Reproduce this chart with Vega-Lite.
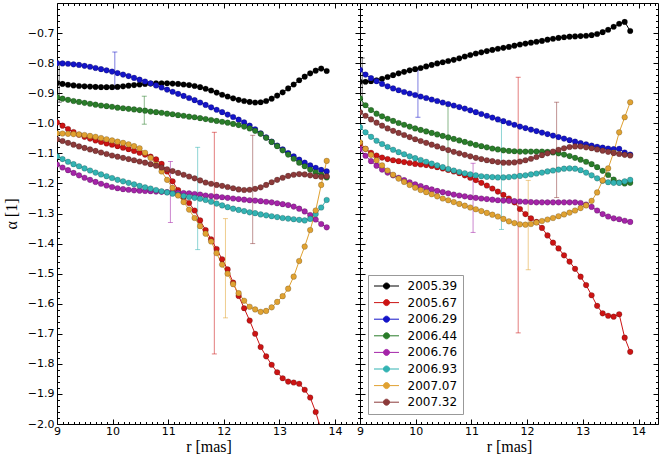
{
"$schema":"https://vega.github.io/schema/vega-lite/v6.json",
"background":"white",
"padding":{"left":2,"top":2,"right":2,"bottom":0},
"config":{"view":{"stroke":"black","strokeWidth":1},
"axis":{"grid":false,"domain":false,"labelFont":"DejaVu Sans","labelFontSize":11,"labelColor":"black","tickColor":"black","tickWidth":1,"titleFont":"Liberation Serif","titleFontSize":16,"titleFontWeight":"normal","titleColor":"black","labelOverlap":false,"labelBound":false,"labelFlush":false}},
"datasets":{
"errs":[
{"p":"L","s":"2005.39","r":9.04,"lo":-0.93,"hi":-0.797},
{"p":"L","s":"2006.29","r":10.04,"lo":-0.885,"hi":-0.763},
{"p":"L","s":"2006.44","r":10.57,"lo":-1.003,"hi":-0.91},
{"p":"L","s":"2006.76","r":11.04,"lo":-1.33,"hi":-1.127},
{"p":"L","s":"2006.93","r":11.53,"lo":-1.42,"hi":-1.08},
{"p":"L","s":"2005.67","r":11.83,"lo":-1.767,"hi":-1.03},
{"p":"L","s":"2007.07","r":12.03,"lo":-1.647,"hi":-1.317},
{"p":"L","s":"2007.32","r":12.52,"lo":-1.4,"hi":-1.04},
{"p":"R","s":"2005.39","r":9.04,"lo":-0.94,"hi":-0.783},
{"p":"R","s":"2006.29","r":10.04,"lo":-0.98,"hi":-0.823},
{"p":"R","s":"2006.44","r":10.58,"lo":-1.16,"hi":-0.943},
{"p":"R","s":"2006.76","r":11.03,"lo":-1.363,"hi":-1.133},
{"p":"R","s":"2006.93","r":11.54,"lo":-1.353,"hi":-0.997},
{"p":"R","s":"2005.67","r":11.84,"lo":-1.697,"hi":-0.847},
{"p":"R","s":"2007.07","r":12.02,"lo":-1.487,"hi":-1.19},
{"p":"R","s":"2007.32","r":12.53,"lo":-1.247,"hi":-0.93}
],
"main":[
{"p":"L","s":"2005.39","r":9,"a":-0.866},{"p":"L","s":"2005.39","r":9.099,"a":-0.869},{"p":"L","s":"2005.39","r":9.198,"a":-0.872},{"p":"L","s":"2005.39","r":9.297,"a":-0.874},{"p":"L","s":"2005.39","r":9.396,"a":-0.876},{"p":"L","s":"2005.39","r":9.495,"a":-0.877},{"p":"L","s":"2005.39","r":9.594,"a":-0.878},{"p":"L","s":"2005.39","r":9.693,"a":-0.879},{"p":"L","s":"2005.39","r":9.792,"a":-0.88},{"p":"L","s":"2005.39","r":9.891,"a":-0.88},
{"p":"L","s":"2005.39","r":9.99,"a":-0.88},{"p":"L","s":"2005.39","r":10.089,"a":-0.879},{"p":"L","s":"2005.39","r":10.188,"a":-0.877},{"p":"L","s":"2005.39","r":10.287,"a":-0.875},{"p":"L","s":"2005.39","r":10.386,"a":-0.873},{"p":"L","s":"2005.39","r":10.485,"a":-0.871},{"p":"L","s":"2005.39","r":10.584,"a":-0.869},{"p":"L","s":"2005.39","r":10.683,"a":-0.868},{"p":"L","s":"2005.39","r":10.782,"a":-0.867},{"p":"L","s":"2005.39","r":10.881,"a":-0.867},
{"p":"L","s":"2005.39","r":10.98,"a":-0.867},{"p":"L","s":"2005.39","r":11.079,"a":-0.868},{"p":"L","s":"2005.39","r":11.178,"a":-0.869},{"p":"L","s":"2005.39","r":11.277,"a":-0.871},{"p":"L","s":"2005.39","r":11.376,"a":-0.873},{"p":"L","s":"2005.39","r":11.475,"a":-0.876},{"p":"L","s":"2005.39","r":11.574,"a":-0.88},{"p":"L","s":"2005.39","r":11.673,"a":-0.885},{"p":"L","s":"2005.39","r":11.772,"a":-0.891},{"p":"L","s":"2005.39","r":11.871,"a":-0.898},
{"p":"L","s":"2005.39","r":11.97,"a":-0.905},{"p":"L","s":"2005.39","r":12.069,"a":-0.911},{"p":"L","s":"2005.39","r":12.168,"a":-0.917},{"p":"L","s":"2005.39","r":12.267,"a":-0.922},{"p":"L","s":"2005.39","r":12.366,"a":-0.926},{"p":"L","s":"2005.39","r":12.465,"a":-0.929},{"p":"L","s":"2005.39","r":12.564,"a":-0.931},{"p":"L","s":"2005.39","r":12.663,"a":-0.93},{"p":"L","s":"2005.39","r":12.762,"a":-0.926},{"p":"L","s":"2005.39","r":12.861,"a":-0.918},
{"p":"L","s":"2005.39","r":12.96,"a":-0.908},{"p":"L","s":"2005.39","r":13.059,"a":-0.897},{"p":"L","s":"2005.39","r":13.158,"a":-0.884},{"p":"L","s":"2005.39","r":13.257,"a":-0.871},{"p":"L","s":"2005.39","r":13.356,"a":-0.857},{"p":"L","s":"2005.39","r":13.455,"a":-0.845},{"p":"L","s":"2005.39","r":13.554,"a":-0.834},{"p":"L","s":"2005.39","r":13.653,"a":-0.825},{"p":"L","s":"2005.39","r":13.752,"a":-0.818},{"p":"L","s":"2005.39","r":13.851,"a":-0.826},

{"p":"L","s":"2005.67","r":9,"a":-0.997},{"p":"L","s":"2005.67","r":9.099,"a":-1.008},{"p":"L","s":"2005.67","r":9.198,"a":-1.019},{"p":"L","s":"2005.67","r":9.297,"a":-1.029},{"p":"L","s":"2005.67","r":9.396,"a":-1.038},{"p":"L","s":"2005.67","r":9.495,"a":-1.045},{"p":"L","s":"2005.67","r":9.594,"a":-1.051},{"p":"L","s":"2005.67","r":9.693,"a":-1.057},{"p":"L","s":"2005.67","r":9.792,"a":-1.062},{"p":"L","s":"2005.67","r":9.891,"a":-1.067},
{"p":"L","s":"2005.67","r":9.99,"a":-1.071},{"p":"L","s":"2005.67","r":10.089,"a":-1.076},{"p":"L","s":"2005.67","r":10.188,"a":-1.081},{"p":"L","s":"2005.67","r":10.287,"a":-1.086},{"p":"L","s":"2005.67","r":10.386,"a":-1.092},{"p":"L","s":"2005.67","r":10.485,"a":-1.098},{"p":"L","s":"2005.67","r":10.584,"a":-1.104},{"p":"L","s":"2005.67","r":10.683,"a":-1.111},{"p":"L","s":"2005.67","r":10.782,"a":-1.12},{"p":"L","s":"2005.67","r":10.881,"a":-1.135},
{"p":"L","s":"2005.67","r":10.98,"a":-1.16},{"p":"L","s":"2005.67","r":11.079,"a":-1.193},{"p":"L","s":"2005.67","r":11.178,"a":-1.222},{"p":"L","s":"2005.67","r":11.277,"a":-1.245},{"p":"L","s":"2005.67","r":11.376,"a":-1.265},{"p":"L","s":"2005.67","r":11.475,"a":-1.29},{"p":"L","s":"2005.67","r":11.574,"a":-1.323},{"p":"L","s":"2005.67","r":11.673,"a":-1.355},{"p":"L","s":"2005.67","r":11.772,"a":-1.386},{"p":"L","s":"2005.67","r":11.871,"a":-1.418},
{"p":"L","s":"2005.67","r":11.97,"a":-1.452},{"p":"L","s":"2005.67","r":12.069,"a":-1.486},{"p":"L","s":"2005.67","r":12.168,"a":-1.53},{"p":"L","s":"2005.67","r":12.267,"a":-1.574},{"p":"L","s":"2005.67","r":12.366,"a":-1.615},{"p":"L","s":"2005.67","r":12.465,"a":-1.656},{"p":"L","s":"2005.67","r":12.564,"a":-1.7},{"p":"L","s":"2005.67","r":12.663,"a":-1.744},{"p":"L","s":"2005.67","r":12.762,"a":-1.775},{"p":"L","s":"2005.67","r":12.861,"a":-1.803},
{"p":"L","s":"2005.67","r":12.96,"a":-1.828},{"p":"L","s":"2005.67","r":13.059,"a":-1.848},{"p":"L","s":"2005.67","r":13.158,"a":-1.859},{"p":"L","s":"2005.67","r":13.257,"a":-1.862},{"p":"L","s":"2005.67","r":13.356,"a":-1.866},{"p":"L","s":"2005.67","r":13.455,"a":-1.886},{"p":"L","s":"2005.67","r":13.554,"a":-1.912},{"p":"L","s":"2005.67","r":13.653,"a":-1.96},{"p":"L","s":"2005.67","r":13.752,"a":-2.02},{"p":"L","s":"2005.67","r":13.851,"a":-2.08},

{"p":"L","s":"2006.29","r":9,"a":-0.8},{"p":"L","s":"2006.29","r":9.099,"a":-0.801},{"p":"L","s":"2006.29","r":9.198,"a":-0.802},{"p":"L","s":"2006.29","r":9.297,"a":-0.804},{"p":"L","s":"2006.29","r":9.396,"a":-0.806},{"p":"L","s":"2006.29","r":9.495,"a":-0.809},{"p":"L","s":"2006.29","r":9.594,"a":-0.812},{"p":"L","s":"2006.29","r":9.693,"a":-0.816},{"p":"L","s":"2006.29","r":9.792,"a":-0.82},{"p":"L","s":"2006.29","r":9.891,"a":-0.824},
{"p":"L","s":"2006.29","r":9.99,"a":-0.828},{"p":"L","s":"2006.29","r":10.089,"a":-0.833},{"p":"L","s":"2006.29","r":10.188,"a":-0.838},{"p":"L","s":"2006.29","r":10.287,"a":-0.843},{"p":"L","s":"2006.29","r":10.386,"a":-0.849},{"p":"L","s":"2006.29","r":10.485,"a":-0.855},{"p":"L","s":"2006.29","r":10.584,"a":-0.861},{"p":"L","s":"2006.29","r":10.683,"a":-0.867},{"p":"L","s":"2006.29","r":10.782,"a":-0.874},{"p":"L","s":"2006.29","r":10.881,"a":-0.881},
{"p":"L","s":"2006.29","r":10.98,"a":-0.888},{"p":"L","s":"2006.29","r":11.079,"a":-0.895},{"p":"L","s":"2006.29","r":11.178,"a":-0.902},{"p":"L","s":"2006.29","r":11.277,"a":-0.909},{"p":"L","s":"2006.29","r":11.376,"a":-0.916},{"p":"L","s":"2006.29","r":11.475,"a":-0.923},{"p":"L","s":"2006.29","r":11.574,"a":-0.931},{"p":"L","s":"2006.29","r":11.673,"a":-0.939},{"p":"L","s":"2006.29","r":11.772,"a":-0.947},{"p":"L","s":"2006.29","r":11.871,"a":-0.955},
{"p":"L","s":"2006.29","r":11.97,"a":-0.963},{"p":"L","s":"2006.29","r":12.069,"a":-0.971},{"p":"L","s":"2006.29","r":12.168,"a":-0.979},{"p":"L","s":"2006.29","r":12.267,"a":-0.988},{"p":"L","s":"2006.29","r":12.366,"a":-0.997},{"p":"L","s":"2006.29","r":12.465,"a":-1.008},{"p":"L","s":"2006.29","r":12.564,"a":-1.02},{"p":"L","s":"2006.29","r":12.663,"a":-1.033},{"p":"L","s":"2006.29","r":12.762,"a":-1.047},{"p":"L","s":"2006.29","r":12.861,"a":-1.061},
{"p":"L","s":"2006.29","r":12.96,"a":-1.074},{"p":"L","s":"2006.29","r":13.059,"a":-1.087},{"p":"L","s":"2006.29","r":13.158,"a":-1.099},{"p":"L","s":"2006.29","r":13.257,"a":-1.11},{"p":"L","s":"2006.29","r":13.356,"a":-1.121},{"p":"L","s":"2006.29","r":13.455,"a":-1.131},{"p":"L","s":"2006.29","r":13.554,"a":-1.14},{"p":"L","s":"2006.29","r":13.653,"a":-1.148},{"p":"L","s":"2006.29","r":13.752,"a":-1.155},{"p":"L","s":"2006.29","r":13.851,"a":-1.16},

{"p":"L","s":"2006.44","r":9,"a":-0.913},{"p":"L","s":"2006.44","r":9.099,"a":-0.918},{"p":"L","s":"2006.44","r":9.198,"a":-0.922},{"p":"L","s":"2006.44","r":9.297,"a":-0.926},{"p":"L","s":"2006.44","r":9.396,"a":-0.929},{"p":"L","s":"2006.44","r":9.495,"a":-0.932},{"p":"L","s":"2006.44","r":9.594,"a":-0.935},{"p":"L","s":"2006.44","r":9.693,"a":-0.938},{"p":"L","s":"2006.44","r":9.792,"a":-0.941},{"p":"L","s":"2006.44","r":9.891,"a":-0.943},
{"p":"L","s":"2006.44","r":9.99,"a":-0.945},{"p":"L","s":"2006.44","r":10.089,"a":-0.948},{"p":"L","s":"2006.44","r":10.188,"a":-0.95},{"p":"L","s":"2006.44","r":10.287,"a":-0.952},{"p":"L","s":"2006.44","r":10.386,"a":-0.954},{"p":"L","s":"2006.44","r":10.485,"a":-0.956},{"p":"L","s":"2006.44","r":10.584,"a":-0.958},{"p":"L","s":"2006.44","r":10.683,"a":-0.961},{"p":"L","s":"2006.44","r":10.782,"a":-0.963},{"p":"L","s":"2006.44","r":10.881,"a":-0.965},
{"p":"L","s":"2006.44","r":10.98,"a":-0.968},{"p":"L","s":"2006.44","r":11.079,"a":-0.97},{"p":"L","s":"2006.44","r":11.178,"a":-0.973},{"p":"L","s":"2006.44","r":11.277,"a":-0.975},{"p":"L","s":"2006.44","r":11.376,"a":-0.978},{"p":"L","s":"2006.44","r":11.475,"a":-0.98},{"p":"L","s":"2006.44","r":11.574,"a":-0.983},{"p":"L","s":"2006.44","r":11.673,"a":-0.986},{"p":"L","s":"2006.44","r":11.772,"a":-0.989},{"p":"L","s":"2006.44","r":11.871,"a":-0.992},
{"p":"L","s":"2006.44","r":11.97,"a":-0.995},{"p":"L","s":"2006.44","r":12.069,"a":-0.998},{"p":"L","s":"2006.44","r":12.168,"a":-1.002},{"p":"L","s":"2006.44","r":12.267,"a":-1.006},{"p":"L","s":"2006.44","r":12.366,"a":-1.011},{"p":"L","s":"2006.44","r":12.465,"a":-1.017},{"p":"L","s":"2006.44","r":12.564,"a":-1.025},{"p":"L","s":"2006.44","r":12.663,"a":-1.035},{"p":"L","s":"2006.44","r":12.762,"a":-1.048},{"p":"L","s":"2006.44","r":12.861,"a":-1.062},
{"p":"L","s":"2006.44","r":12.96,"a":-1.076},{"p":"L","s":"2006.44","r":13.059,"a":-1.09},{"p":"L","s":"2006.44","r":13.158,"a":-1.104},{"p":"L","s":"2006.44","r":13.257,"a":-1.118},{"p":"L","s":"2006.44","r":13.356,"a":-1.131},{"p":"L","s":"2006.44","r":13.455,"a":-1.143},{"p":"L","s":"2006.44","r":13.554,"a":-1.154},{"p":"L","s":"2006.44","r":13.653,"a":-1.163},{"p":"L","s":"2006.44","r":13.752,"a":-1.171},{"p":"L","s":"2006.44","r":13.851,"a":-1.18},

{"p":"L","s":"2006.76","r":9,"a":-1.137},{"p":"L","s":"2006.76","r":9.099,"a":-1.147},{"p":"L","s":"2006.76","r":9.198,"a":-1.156},{"p":"L","s":"2006.76","r":9.297,"a":-1.165},{"p":"L","s":"2006.76","r":9.396,"a":-1.173},{"p":"L","s":"2006.76","r":9.495,"a":-1.181},{"p":"L","s":"2006.76","r":9.594,"a":-1.188},{"p":"L","s":"2006.76","r":9.693,"a":-1.195},{"p":"L","s":"2006.76","r":9.792,"a":-1.201},{"p":"L","s":"2006.76","r":9.891,"a":-1.207},
{"p":"L","s":"2006.76","r":9.99,"a":-1.212},{"p":"L","s":"2006.76","r":10.089,"a":-1.216},{"p":"L","s":"2006.76","r":10.188,"a":-1.219},{"p":"L","s":"2006.76","r":10.287,"a":-1.221},{"p":"L","s":"2006.76","r":10.386,"a":-1.223},{"p":"L","s":"2006.76","r":10.485,"a":-1.224},{"p":"L","s":"2006.76","r":10.584,"a":-1.225},{"p":"L","s":"2006.76","r":10.683,"a":-1.226},{"p":"L","s":"2006.76","r":10.782,"a":-1.227},{"p":"L","s":"2006.76","r":10.881,"a":-1.228},
{"p":"L","s":"2006.76","r":10.98,"a":-1.229},{"p":"L","s":"2006.76","r":11.079,"a":-1.23},{"p":"L","s":"2006.76","r":11.178,"a":-1.231},{"p":"L","s":"2006.76","r":11.277,"a":-1.232},{"p":"L","s":"2006.76","r":11.376,"a":-1.233},{"p":"L","s":"2006.76","r":11.475,"a":-1.235},{"p":"L","s":"2006.76","r":11.574,"a":-1.237},{"p":"L","s":"2006.76","r":11.673,"a":-1.24},{"p":"L","s":"2006.76","r":11.772,"a":-1.242},{"p":"L","s":"2006.76","r":11.871,"a":-1.244},
{"p":"L","s":"2006.76","r":11.97,"a":-1.246},{"p":"L","s":"2006.76","r":12.069,"a":-1.248},{"p":"L","s":"2006.76","r":12.168,"a":-1.25},{"p":"L","s":"2006.76","r":12.267,"a":-1.252},{"p":"L","s":"2006.76","r":12.366,"a":-1.254},{"p":"L","s":"2006.76","r":12.465,"a":-1.256},{"p":"L","s":"2006.76","r":12.564,"a":-1.257},{"p":"L","s":"2006.76","r":12.663,"a":-1.259},{"p":"L","s":"2006.76","r":12.762,"a":-1.261},{"p":"L","s":"2006.76","r":12.861,"a":-1.263},
{"p":"L","s":"2006.76","r":12.96,"a":-1.266},{"p":"L","s":"2006.76","r":13.059,"a":-1.269},{"p":"L","s":"2006.76","r":13.158,"a":-1.272},{"p":"L","s":"2006.76","r":13.257,"a":-1.277},{"p":"L","s":"2006.76","r":13.356,"a":-1.284},{"p":"L","s":"2006.76","r":13.455,"a":-1.293},{"p":"L","s":"2006.76","r":13.554,"a":-1.305},{"p":"L","s":"2006.76","r":13.653,"a":-1.32},{"p":"L","s":"2006.76","r":13.752,"a":-1.335},{"p":"L","s":"2006.76","r":13.851,"a":-1.346},

{"p":"L","s":"2006.93","r":9,"a":-1.11},{"p":"L","s":"2006.93","r":9.099,"a":-1.119},{"p":"L","s":"2006.93","r":9.198,"a":-1.128},{"p":"L","s":"2006.93","r":9.297,"a":-1.136},{"p":"L","s":"2006.93","r":9.396,"a":-1.143},{"p":"L","s":"2006.93","r":9.495,"a":-1.15},{"p":"L","s":"2006.93","r":9.594,"a":-1.157},{"p":"L","s":"2006.93","r":9.693,"a":-1.164},{"p":"L","s":"2006.93","r":9.792,"a":-1.17},{"p":"L","s":"2006.93","r":9.891,"a":-1.176},
{"p":"L","s":"2006.93","r":9.99,"a":-1.182},{"p":"L","s":"2006.93","r":10.089,"a":-1.188},{"p":"L","s":"2006.93","r":10.188,"a":-1.193},{"p":"L","s":"2006.93","r":10.287,"a":-1.198},{"p":"L","s":"2006.93","r":10.386,"a":-1.203},{"p":"L","s":"2006.93","r":10.485,"a":-1.208},{"p":"L","s":"2006.93","r":10.584,"a":-1.213},{"p":"L","s":"2006.93","r":10.683,"a":-1.217},{"p":"L","s":"2006.93","r":10.782,"a":-1.222},{"p":"L","s":"2006.93","r":10.881,"a":-1.226},
{"p":"L","s":"2006.93","r":10.98,"a":-1.23},{"p":"L","s":"2006.93","r":11.079,"a":-1.234},{"p":"L","s":"2006.93","r":11.178,"a":-1.238},{"p":"L","s":"2006.93","r":11.277,"a":-1.242},{"p":"L","s":"2006.93","r":11.376,"a":-1.245},{"p":"L","s":"2006.93","r":11.475,"a":-1.248},{"p":"L","s":"2006.93","r":11.574,"a":-1.251},{"p":"L","s":"2006.93","r":11.673,"a":-1.255},{"p":"L","s":"2006.93","r":11.772,"a":-1.261},{"p":"L","s":"2006.93","r":11.871,"a":-1.267},
{"p":"L","s":"2006.93","r":11.97,"a":-1.273},{"p":"L","s":"2006.93","r":12.069,"a":-1.279},{"p":"L","s":"2006.93","r":12.168,"a":-1.284},{"p":"L","s":"2006.93","r":12.267,"a":-1.288},{"p":"L","s":"2006.93","r":12.366,"a":-1.292},{"p":"L","s":"2006.93","r":12.465,"a":-1.296},{"p":"L","s":"2006.93","r":12.564,"a":-1.299},{"p":"L","s":"2006.93","r":12.663,"a":-1.303},{"p":"L","s":"2006.93","r":12.762,"a":-1.306},{"p":"L","s":"2006.93","r":12.861,"a":-1.309},
{"p":"L","s":"2006.93","r":12.96,"a":-1.312},{"p":"L","s":"2006.93","r":13.059,"a":-1.315},{"p":"L","s":"2006.93","r":13.158,"a":-1.317},{"p":"L","s":"2006.93","r":13.257,"a":-1.319},{"p":"L","s":"2006.93","r":13.356,"a":-1.321},{"p":"L","s":"2006.93","r":13.455,"a":-1.323},{"p":"L","s":"2006.93","r":13.554,"a":-1.318},{"p":"L","s":"2006.93","r":13.653,"a":-1.302},{"p":"L","s":"2006.93","r":13.752,"a":-1.28},{"p":"L","s":"2006.93","r":13.851,"a":-1.255},

{"p":"L","s":"2007.07","r":9,"a":-1.033},{"p":"L","s":"2007.07","r":9.099,"a":-1.034},{"p":"L","s":"2007.07","r":9.198,"a":-1.035},{"p":"L","s":"2007.07","r":9.297,"a":-1.036},{"p":"L","s":"2007.07","r":9.396,"a":-1.037},{"p":"L","s":"2007.07","r":9.495,"a":-1.039},{"p":"L","s":"2007.07","r":9.594,"a":-1.042},{"p":"L","s":"2007.07","r":9.693,"a":-1.045},{"p":"L","s":"2007.07","r":9.792,"a":-1.049},{"p":"L","s":"2007.07","r":9.891,"a":-1.053},
{"p":"L","s":"2007.07","r":9.99,"a":-1.057},{"p":"L","s":"2007.07","r":10.089,"a":-1.061},{"p":"L","s":"2007.07","r":10.188,"a":-1.065},{"p":"L","s":"2007.07","r":10.287,"a":-1.07},{"p":"L","s":"2007.07","r":10.386,"a":-1.076},{"p":"L","s":"2007.07","r":10.485,"a":-1.083},{"p":"L","s":"2007.07","r":10.584,"a":-1.098},{"p":"L","s":"2007.07","r":10.683,"a":-1.115},{"p":"L","s":"2007.07","r":10.782,"a":-1.137},{"p":"L","s":"2007.07","r":10.881,"a":-1.16},
{"p":"L","s":"2007.07","r":10.98,"a":-1.188},{"p":"L","s":"2007.07","r":11.079,"a":-1.215},{"p":"L","s":"2007.07","r":11.178,"a":-1.24},{"p":"L","s":"2007.07","r":11.277,"a":-1.262},{"p":"L","s":"2007.07","r":11.376,"a":-1.287},{"p":"L","s":"2007.07","r":11.475,"a":-1.315},{"p":"L","s":"2007.07","r":11.574,"a":-1.342},{"p":"L","s":"2007.07","r":11.673,"a":-1.367},{"p":"L","s":"2007.07","r":11.772,"a":-1.393},{"p":"L","s":"2007.07","r":11.871,"a":-1.432},
{"p":"L","s":"2007.07","r":11.97,"a":-1.47},{"p":"L","s":"2007.07","r":12.069,"a":-1.5},{"p":"L","s":"2007.07","r":12.168,"a":-1.535},{"p":"L","s":"2007.07","r":12.267,"a":-1.565},{"p":"L","s":"2007.07","r":12.366,"a":-1.59},{"p":"L","s":"2007.07","r":12.465,"a":-1.61},{"p":"L","s":"2007.07","r":12.564,"a":-1.619},{"p":"L","s":"2007.07","r":12.663,"a":-1.627},{"p":"L","s":"2007.07","r":12.762,"a":-1.624},{"p":"L","s":"2007.07","r":12.861,"a":-1.612},
{"p":"L","s":"2007.07","r":12.96,"a":-1.594},{"p":"L","s":"2007.07","r":13.059,"a":-1.575},{"p":"L","s":"2007.07","r":13.158,"a":-1.55},{"p":"L","s":"2007.07","r":13.257,"a":-1.51},{"p":"L","s":"2007.07","r":13.356,"a":-1.458},{"p":"L","s":"2007.07","r":13.455,"a":-1.41},{"p":"L","s":"2007.07","r":13.554,"a":-1.355},{"p":"L","s":"2007.07","r":13.653,"a":-1.29},{"p":"L","s":"2007.07","r":13.752,"a":-1.205},{"p":"L","s":"2007.07","r":13.851,"a":-1.125},

{"p":"L","s":"2007.32","r":9,"a":-1.053},{"p":"L","s":"2007.32","r":9.099,"a":-1.059},{"p":"L","s":"2007.32","r":9.198,"a":-1.065},{"p":"L","s":"2007.32","r":9.297,"a":-1.071},{"p":"L","s":"2007.32","r":9.396,"a":-1.077},{"p":"L","s":"2007.32","r":9.495,"a":-1.082},{"p":"L","s":"2007.32","r":9.594,"a":-1.087},{"p":"L","s":"2007.32","r":9.693,"a":-1.092},{"p":"L","s":"2007.32","r":9.792,"a":-1.097},{"p":"L","s":"2007.32","r":9.891,"a":-1.102},
{"p":"L","s":"2007.32","r":9.99,"a":-1.107},{"p":"L","s":"2007.32","r":10.089,"a":-1.111},{"p":"L","s":"2007.32","r":10.188,"a":-1.115},{"p":"L","s":"2007.32","r":10.287,"a":-1.119},{"p":"L","s":"2007.32","r":10.386,"a":-1.123},{"p":"L","s":"2007.32","r":10.485,"a":-1.127},{"p":"L","s":"2007.32","r":10.584,"a":-1.131},{"p":"L","s":"2007.32","r":10.683,"a":-1.136},{"p":"L","s":"2007.32","r":10.782,"a":-1.141},{"p":"L","s":"2007.32","r":10.881,"a":-1.147},
{"p":"L","s":"2007.32","r":10.98,"a":-1.153},{"p":"L","s":"2007.32","r":11.079,"a":-1.159},{"p":"L","s":"2007.32","r":11.178,"a":-1.165},{"p":"L","s":"2007.32","r":11.277,"a":-1.171},{"p":"L","s":"2007.32","r":11.376,"a":-1.177},{"p":"L","s":"2007.32","r":11.475,"a":-1.183},{"p":"L","s":"2007.32","r":11.574,"a":-1.19},{"p":"L","s":"2007.32","r":11.673,"a":-1.197},{"p":"L","s":"2007.32","r":11.772,"a":-1.201},{"p":"L","s":"2007.32","r":11.871,"a":-1.205},
{"p":"L","s":"2007.32","r":11.97,"a":-1.208},{"p":"L","s":"2007.32","r":12.069,"a":-1.212},{"p":"L","s":"2007.32","r":12.168,"a":-1.216},{"p":"L","s":"2007.32","r":12.267,"a":-1.22},{"p":"L","s":"2007.32","r":12.366,"a":-1.222},{"p":"L","s":"2007.32","r":12.465,"a":-1.221},{"p":"L","s":"2007.32","r":12.564,"a":-1.218},{"p":"L","s":"2007.32","r":12.663,"a":-1.213},{"p":"L","s":"2007.32","r":12.762,"a":-1.205},{"p":"L","s":"2007.32","r":12.861,"a":-1.196},
{"p":"L","s":"2007.32","r":12.96,"a":-1.188},{"p":"L","s":"2007.32","r":13.059,"a":-1.181},{"p":"L","s":"2007.32","r":13.158,"a":-1.175},{"p":"L","s":"2007.32","r":13.257,"a":-1.171},{"p":"L","s":"2007.32","r":13.356,"a":-1.169},{"p":"L","s":"2007.32","r":13.455,"a":-1.17},{"p":"L","s":"2007.32","r":13.554,"a":-1.173},{"p":"L","s":"2007.32","r":13.653,"a":-1.176},{"p":"L","s":"2007.32","r":13.752,"a":-1.178},{"p":"L","s":"2007.32","r":13.851,"a":-1.176},

{"p":"R","s":"2005.39","r":9,"a":-0.862},{"p":"R","s":"2005.39","r":9.099,"a":-0.862},{"p":"R","s":"2005.39","r":9.198,"a":-0.86},{"p":"R","s":"2005.39","r":9.297,"a":-0.857},{"p":"R","s":"2005.39","r":9.396,"a":-0.852},{"p":"R","s":"2005.39","r":9.495,"a":-0.846},{"p":"R","s":"2005.39","r":9.594,"a":-0.84},{"p":"R","s":"2005.39","r":9.693,"a":-0.834},{"p":"R","s":"2005.39","r":9.792,"a":-0.829},{"p":"R","s":"2005.39","r":9.891,"a":-0.824},
{"p":"R","s":"2005.39","r":9.99,"a":-0.82},{"p":"R","s":"2005.39","r":10.089,"a":-0.816},{"p":"R","s":"2005.39","r":10.188,"a":-0.811},{"p":"R","s":"2005.39","r":10.287,"a":-0.806},{"p":"R","s":"2005.39","r":10.386,"a":-0.801},{"p":"R","s":"2005.39","r":10.485,"a":-0.797},{"p":"R","s":"2005.39","r":10.584,"a":-0.793},{"p":"R","s":"2005.39","r":10.683,"a":-0.789},{"p":"R","s":"2005.39","r":10.782,"a":-0.784},{"p":"R","s":"2005.39","r":10.881,"a":-0.778},
{"p":"R","s":"2005.39","r":10.98,"a":-0.773},{"p":"R","s":"2005.39","r":11.079,"a":-0.768},{"p":"R","s":"2005.39","r":11.178,"a":-0.764},{"p":"R","s":"2005.39","r":11.277,"a":-0.76},{"p":"R","s":"2005.39","r":11.376,"a":-0.756},{"p":"R","s":"2005.39","r":11.475,"a":-0.752},{"p":"R","s":"2005.39","r":11.574,"a":-0.749},{"p":"R","s":"2005.39","r":11.673,"a":-0.746},{"p":"R","s":"2005.39","r":11.772,"a":-0.742},{"p":"R","s":"2005.39","r":11.871,"a":-0.738},
{"p":"R","s":"2005.39","r":11.97,"a":-0.735},{"p":"R","s":"2005.39","r":12.069,"a":-0.732},{"p":"R","s":"2005.39","r":12.168,"a":-0.729},{"p":"R","s":"2005.39","r":12.267,"a":-0.726},{"p":"R","s":"2005.39","r":12.366,"a":-0.722},{"p":"R","s":"2005.39","r":12.465,"a":-0.719},{"p":"R","s":"2005.39","r":12.564,"a":-0.716},{"p":"R","s":"2005.39","r":12.663,"a":-0.714},{"p":"R","s":"2005.39","r":12.762,"a":-0.712},{"p":"R","s":"2005.39","r":12.861,"a":-0.711},
{"p":"R","s":"2005.39","r":12.96,"a":-0.71},{"p":"R","s":"2005.39","r":13.059,"a":-0.709},{"p":"R","s":"2005.39","r":13.158,"a":-0.707},{"p":"R","s":"2005.39","r":13.257,"a":-0.703},{"p":"R","s":"2005.39","r":13.356,"a":-0.697},{"p":"R","s":"2005.39","r":13.455,"a":-0.689},{"p":"R","s":"2005.39","r":13.554,"a":-0.679},{"p":"R","s":"2005.39","r":13.653,"a":-0.669},{"p":"R","s":"2005.39","r":13.752,"a":-0.663},{"p":"R","s":"2005.39","r":13.851,"a":-0.693},

{"p":"R","s":"2005.67","r":9,"a":-1.068},{"p":"R","s":"2005.67","r":9.099,"a":-1.085},{"p":"R","s":"2005.67","r":9.198,"a":-1.098},{"p":"R","s":"2005.67","r":9.297,"a":-1.107},{"p":"R","s":"2005.67","r":9.396,"a":-1.114},{"p":"R","s":"2005.67","r":9.495,"a":-1.119},{"p":"R","s":"2005.67","r":9.594,"a":-1.123},{"p":"R","s":"2005.67","r":9.693,"a":-1.126},{"p":"R","s":"2005.67","r":9.792,"a":-1.129},{"p":"R","s":"2005.67","r":9.891,"a":-1.132},
{"p":"R","s":"2005.67","r":9.99,"a":-1.135},{"p":"R","s":"2005.67","r":10.089,"a":-1.137},{"p":"R","s":"2005.67","r":10.188,"a":-1.139},{"p":"R","s":"2005.67","r":10.287,"a":-1.142},{"p":"R","s":"2005.67","r":10.386,"a":-1.146},{"p":"R","s":"2005.67","r":10.485,"a":-1.15},{"p":"R","s":"2005.67","r":10.584,"a":-1.155},{"p":"R","s":"2005.67","r":10.683,"a":-1.16},{"p":"R","s":"2005.67","r":10.782,"a":-1.166},{"p":"R","s":"2005.67","r":10.881,"a":-1.173},
{"p":"R","s":"2005.67","r":10.98,"a":-1.181},{"p":"R","s":"2005.67","r":11.079,"a":-1.189},{"p":"R","s":"2005.67","r":11.178,"a":-1.198},{"p":"R","s":"2005.67","r":11.277,"a":-1.207},{"p":"R","s":"2005.67","r":11.376,"a":-1.217},{"p":"R","s":"2005.67","r":11.475,"a":-1.227},{"p":"R","s":"2005.67","r":11.574,"a":-1.238},{"p":"R","s":"2005.67","r":11.673,"a":-1.25},{"p":"R","s":"2005.67","r":11.772,"a":-1.263},{"p":"R","s":"2005.67","r":11.871,"a":-1.285},
{"p":"R","s":"2005.67","r":11.97,"a":-1.302},{"p":"R","s":"2005.67","r":12.069,"a":-1.316},{"p":"R","s":"2005.67","r":12.168,"a":-1.328},{"p":"R","s":"2005.67","r":12.267,"a":-1.348},{"p":"R","s":"2005.67","r":12.366,"a":-1.373},{"p":"R","s":"2005.67","r":12.465,"a":-1.397},{"p":"R","s":"2005.67","r":12.564,"a":-1.416},{"p":"R","s":"2005.67","r":12.663,"a":-1.439},{"p":"R","s":"2005.67","r":12.762,"a":-1.46},{"p":"R","s":"2005.67","r":12.861,"a":-1.484},
{"p":"R","s":"2005.67","r":12.96,"a":-1.51},{"p":"R","s":"2005.67","r":13.059,"a":-1.538},{"p":"R","s":"2005.67","r":13.158,"a":-1.572},{"p":"R","s":"2005.67","r":13.257,"a":-1.607},{"p":"R","s":"2005.67","r":13.356,"a":-1.632},{"p":"R","s":"2005.67","r":13.455,"a":-1.64},{"p":"R","s":"2005.67","r":13.554,"a":-1.643},{"p":"R","s":"2005.67","r":13.653,"a":-1.635},{"p":"R","s":"2005.67","r":13.752,"a":-1.713},{"p":"R","s":"2005.67","r":13.851,"a":-1.76},

{"p":"R","s":"2006.29","r":9,"a":-0.822},{"p":"R","s":"2006.29","r":9.099,"a":-0.838},{"p":"R","s":"2006.29","r":9.198,"a":-0.85},{"p":"R","s":"2006.29","r":9.297,"a":-0.86},{"p":"R","s":"2006.29","r":9.396,"a":-0.869},{"p":"R","s":"2006.29","r":9.495,"a":-0.877},{"p":"R","s":"2006.29","r":9.594,"a":-0.884},{"p":"R","s":"2006.29","r":9.693,"a":-0.89},{"p":"R","s":"2006.29","r":9.792,"a":-0.896},{"p":"R","s":"2006.29","r":9.891,"a":-0.901},
{"p":"R","s":"2006.29","r":9.99,"a":-0.906},{"p":"R","s":"2006.29","r":10.089,"a":-0.911},{"p":"R","s":"2006.29","r":10.188,"a":-0.916},{"p":"R","s":"2006.29","r":10.287,"a":-0.921},{"p":"R","s":"2006.29","r":10.386,"a":-0.926},{"p":"R","s":"2006.29","r":10.485,"a":-0.931},{"p":"R","s":"2006.29","r":10.584,"a":-0.936},{"p":"R","s":"2006.29","r":10.683,"a":-0.941},{"p":"R","s":"2006.29","r":10.782,"a":-0.946},{"p":"R","s":"2006.29","r":10.881,"a":-0.951},
{"p":"R","s":"2006.29","r":10.98,"a":-0.957},{"p":"R","s":"2006.29","r":11.079,"a":-0.963},{"p":"R","s":"2006.29","r":11.178,"a":-0.969},{"p":"R","s":"2006.29","r":11.277,"a":-0.975},{"p":"R","s":"2006.29","r":11.376,"a":-0.981},{"p":"R","s":"2006.29","r":11.475,"a":-0.987},{"p":"R","s":"2006.29","r":11.574,"a":-0.993},{"p":"R","s":"2006.29","r":11.673,"a":-0.999},{"p":"R","s":"2006.29","r":11.772,"a":-1.005},{"p":"R","s":"2006.29","r":11.871,"a":-1.011},
{"p":"R","s":"2006.29","r":11.97,"a":-1.016},{"p":"R","s":"2006.29","r":12.069,"a":-1.021},{"p":"R","s":"2006.29","r":12.168,"a":-1.026},{"p":"R","s":"2006.29","r":12.267,"a":-1.031},{"p":"R","s":"2006.29","r":12.366,"a":-1.036},{"p":"R","s":"2006.29","r":12.465,"a":-1.041},{"p":"R","s":"2006.29","r":12.564,"a":-1.046},{"p":"R","s":"2006.29","r":12.663,"a":-1.051},{"p":"R","s":"2006.29","r":12.762,"a":-1.056},{"p":"R","s":"2006.29","r":12.861,"a":-1.061},
{"p":"R","s":"2006.29","r":12.96,"a":-1.066},{"p":"R","s":"2006.29","r":13.059,"a":-1.07},{"p":"R","s":"2006.29","r":13.158,"a":-1.074},{"p":"R","s":"2006.29","r":13.257,"a":-1.078},{"p":"R","s":"2006.29","r":13.356,"a":-1.081},{"p":"R","s":"2006.29","r":13.455,"a":-1.084},{"p":"R","s":"2006.29","r":13.554,"a":-1.086},{"p":"R","s":"2006.29","r":13.653,"a":-1.085},{"p":"R","s":"2006.29","r":13.752,"a":-1.097},{"p":"R","s":"2006.29","r":13.851,"a":-1.104},

{"p":"R","s":"2006.44","r":9,"a":-0.917},{"p":"R","s":"2006.44","r":9.099,"a":-0.94},{"p":"R","s":"2006.44","r":9.198,"a":-0.956},{"p":"R","s":"2006.44","r":9.297,"a":-0.968},{"p":"R","s":"2006.44","r":9.396,"a":-0.977},{"p":"R","s":"2006.44","r":9.495,"a":-0.985},{"p":"R","s":"2006.44","r":9.594,"a":-0.992},{"p":"R","s":"2006.44","r":9.693,"a":-0.999},{"p":"R","s":"2006.44","r":9.792,"a":-1.005},{"p":"R","s":"2006.44","r":9.891,"a":-1.011},
{"p":"R","s":"2006.44","r":9.99,"a":-1.017},{"p":"R","s":"2006.44","r":10.089,"a":-1.022},{"p":"R","s":"2006.44","r":10.188,"a":-1.027},{"p":"R","s":"2006.44","r":10.287,"a":-1.032},{"p":"R","s":"2006.44","r":10.386,"a":-1.037},{"p":"R","s":"2006.44","r":10.485,"a":-1.042},{"p":"R","s":"2006.44","r":10.584,"a":-1.047},{"p":"R","s":"2006.44","r":10.683,"a":-1.052},{"p":"R","s":"2006.44","r":10.782,"a":-1.057},{"p":"R","s":"2006.44","r":10.881,"a":-1.062},
{"p":"R","s":"2006.44","r":10.98,"a":-1.067},{"p":"R","s":"2006.44","r":11.079,"a":-1.072},{"p":"R","s":"2006.44","r":11.178,"a":-1.076},{"p":"R","s":"2006.44","r":11.277,"a":-1.08},{"p":"R","s":"2006.44","r":11.376,"a":-1.084},{"p":"R","s":"2006.44","r":11.475,"a":-1.087},{"p":"R","s":"2006.44","r":11.574,"a":-1.09},{"p":"R","s":"2006.44","r":11.673,"a":-1.092},{"p":"R","s":"2006.44","r":11.772,"a":-1.093},{"p":"R","s":"2006.44","r":11.871,"a":-1.094},
{"p":"R","s":"2006.44","r":11.97,"a":-1.094},{"p":"R","s":"2006.44","r":12.069,"a":-1.094},{"p":"R","s":"2006.44","r":12.168,"a":-1.094},{"p":"R","s":"2006.44","r":12.267,"a":-1.094},{"p":"R","s":"2006.44","r":12.366,"a":-1.095},{"p":"R","s":"2006.44","r":12.465,"a":-1.097},{"p":"R","s":"2006.44","r":12.564,"a":-1.1},{"p":"R","s":"2006.44","r":12.663,"a":-1.104},{"p":"R","s":"2006.44","r":12.762,"a":-1.109},{"p":"R","s":"2006.44","r":12.861,"a":-1.115},
{"p":"R","s":"2006.44","r":12.96,"a":-1.121},{"p":"R","s":"2006.44","r":13.059,"a":-1.128},{"p":"R","s":"2006.44","r":13.158,"a":-1.136},{"p":"R","s":"2006.44","r":13.257,"a":-1.146},{"p":"R","s":"2006.44","r":13.356,"a":-1.158},{"p":"R","s":"2006.44","r":13.455,"a":-1.172},{"p":"R","s":"2006.44","r":13.554,"a":-1.187},{"p":"R","s":"2006.44","r":13.653,"a":-1.197},{"p":"R","s":"2006.44","r":13.752,"a":-1.2},{"p":"R","s":"2006.44","r":13.851,"a":-1.198},

{"p":"R","s":"2006.76","r":9,"a":-1.085},{"p":"R","s":"2006.76","r":9.099,"a":-1.108},{"p":"R","s":"2006.76","r":9.198,"a":-1.126},{"p":"R","s":"2006.76","r":9.297,"a":-1.141},{"p":"R","s":"2006.76","r":9.396,"a":-1.154},{"p":"R","s":"2006.76","r":9.495,"a":-1.164},{"p":"R","s":"2006.76","r":9.594,"a":-1.173},{"p":"R","s":"2006.76","r":9.693,"a":-1.181},{"p":"R","s":"2006.76","r":9.792,"a":-1.189},{"p":"R","s":"2006.76","r":9.891,"a":-1.196},
{"p":"R","s":"2006.76","r":9.99,"a":-1.203},{"p":"R","s":"2006.76","r":10.089,"a":-1.209},{"p":"R","s":"2006.76","r":10.188,"a":-1.215},{"p":"R","s":"2006.76","r":10.287,"a":-1.22},{"p":"R","s":"2006.76","r":10.386,"a":-1.225},{"p":"R","s":"2006.76","r":10.485,"a":-1.229},{"p":"R","s":"2006.76","r":10.584,"a":-1.233},{"p":"R","s":"2006.76","r":10.683,"a":-1.237},{"p":"R","s":"2006.76","r":10.782,"a":-1.24},{"p":"R","s":"2006.76","r":10.881,"a":-1.243},
{"p":"R","s":"2006.76","r":10.98,"a":-1.246},{"p":"R","s":"2006.76","r":11.079,"a":-1.248},{"p":"R","s":"2006.76","r":11.178,"a":-1.25},{"p":"R","s":"2006.76","r":11.277,"a":-1.252},{"p":"R","s":"2006.76","r":11.376,"a":-1.254},{"p":"R","s":"2006.76","r":11.475,"a":-1.256},{"p":"R","s":"2006.76","r":11.574,"a":-1.257},{"p":"R","s":"2006.76","r":11.673,"a":-1.258},{"p":"R","s":"2006.76","r":11.772,"a":-1.259},{"p":"R","s":"2006.76","r":11.871,"a":-1.26},
{"p":"R","s":"2006.76","r":11.97,"a":-1.261},{"p":"R","s":"2006.76","r":12.069,"a":-1.262},{"p":"R","s":"2006.76","r":12.168,"a":-1.263},{"p":"R","s":"2006.76","r":12.267,"a":-1.263},{"p":"R","s":"2006.76","r":12.366,"a":-1.263},{"p":"R","s":"2006.76","r":12.465,"a":-1.263},{"p":"R","s":"2006.76","r":12.564,"a":-1.263},{"p":"R","s":"2006.76","r":12.663,"a":-1.263},{"p":"R","s":"2006.76","r":12.762,"a":-1.263},{"p":"R","s":"2006.76","r":12.861,"a":-1.263},
{"p":"R","s":"2006.76","r":12.96,"a":-1.265},{"p":"R","s":"2006.76","r":13.059,"a":-1.27},{"p":"R","s":"2006.76","r":13.158,"a":-1.278},{"p":"R","s":"2006.76","r":13.257,"a":-1.29},{"p":"R","s":"2006.76","r":13.356,"a":-1.302},{"p":"R","s":"2006.76","r":13.455,"a":-1.31},{"p":"R","s":"2006.76","r":13.554,"a":-1.316},{"p":"R","s":"2006.76","r":13.653,"a":-1.319},{"p":"R","s":"2006.76","r":13.752,"a":-1.324},{"p":"R","s":"2006.76","r":13.851,"a":-1.328},

{"p":"R","s":"2006.93","r":9,"a":-1.013},{"p":"R","s":"2006.93","r":9.099,"a":-1.03},{"p":"R","s":"2006.93","r":9.198,"a":-1.045},{"p":"R","s":"2006.93","r":9.297,"a":-1.058},{"p":"R","s":"2006.93","r":9.396,"a":-1.069},{"p":"R","s":"2006.93","r":9.495,"a":-1.079},{"p":"R","s":"2006.93","r":9.594,"a":-1.088},{"p":"R","s":"2006.93","r":9.693,"a":-1.096},{"p":"R","s":"2006.93","r":9.792,"a":-1.103},{"p":"R","s":"2006.93","r":9.891,"a":-1.11},
{"p":"R","s":"2006.93","r":9.99,"a":-1.116},{"p":"R","s":"2006.93","r":10.089,"a":-1.122},{"p":"R","s":"2006.93","r":10.188,"a":-1.128},{"p":"R","s":"2006.93","r":10.287,"a":-1.134},{"p":"R","s":"2006.93","r":10.386,"a":-1.14},{"p":"R","s":"2006.93","r":10.485,"a":-1.146},{"p":"R","s":"2006.93","r":10.584,"a":-1.152},{"p":"R","s":"2006.93","r":10.683,"a":-1.157},{"p":"R","s":"2006.93","r":10.782,"a":-1.162},{"p":"R","s":"2006.93","r":10.881,"a":-1.166},
{"p":"R","s":"2006.93","r":10.98,"a":-1.17},{"p":"R","s":"2006.93","r":11.079,"a":-1.173},{"p":"R","s":"2006.93","r":11.178,"a":-1.176},{"p":"R","s":"2006.93","r":11.277,"a":-1.178},{"p":"R","s":"2006.93","r":11.376,"a":-1.179},{"p":"R","s":"2006.93","r":11.475,"a":-1.18},{"p":"R","s":"2006.93","r":11.574,"a":-1.18},{"p":"R","s":"2006.93","r":11.673,"a":-1.179},{"p":"R","s":"2006.93","r":11.772,"a":-1.177},{"p":"R","s":"2006.93","r":11.871,"a":-1.175},
{"p":"R","s":"2006.93","r":11.97,"a":-1.173},{"p":"R","s":"2006.93","r":12.069,"a":-1.17},{"p":"R","s":"2006.93","r":12.168,"a":-1.167},{"p":"R","s":"2006.93","r":12.267,"a":-1.164},{"p":"R","s":"2006.93","r":12.366,"a":-1.16},{"p":"R","s":"2006.93","r":12.465,"a":-1.157},{"p":"R","s":"2006.93","r":12.564,"a":-1.154},{"p":"R","s":"2006.93","r":12.663,"a":-1.151},{"p":"R","s":"2006.93","r":12.762,"a":-1.15},{"p":"R","s":"2006.93","r":12.861,"a":-1.151},
{"p":"R","s":"2006.93","r":12.96,"a":-1.156},{"p":"R","s":"2006.93","r":13.059,"a":-1.164},{"p":"R","s":"2006.93","r":13.158,"a":-1.173},{"p":"R","s":"2006.93","r":13.257,"a":-1.183},{"p":"R","s":"2006.93","r":13.356,"a":-1.191},{"p":"R","s":"2006.93","r":13.455,"a":-1.196},{"p":"R","s":"2006.93","r":13.554,"a":-1.198},{"p":"R","s":"2006.93","r":13.653,"a":-1.198},{"p":"R","s":"2006.93","r":13.752,"a":-1.193},{"p":"R","s":"2006.93","r":13.851,"a":-1.188},

{"p":"R","s":"2007.07","r":9,"a":-1.063},{"p":"R","s":"2007.07","r":9.099,"a":-1.085},{"p":"R","s":"2007.07","r":9.198,"a":-1.105},{"p":"R","s":"2007.07","r":9.297,"a":-1.123},{"p":"R","s":"2007.07","r":9.396,"a":-1.14},{"p":"R","s":"2007.07","r":9.495,"a":-1.157},{"p":"R","s":"2007.07","r":9.594,"a":-1.171},{"p":"R","s":"2007.07","r":9.693,"a":-1.184},{"p":"R","s":"2007.07","r":9.792,"a":-1.195},{"p":"R","s":"2007.07","r":9.891,"a":-1.205},
{"p":"R","s":"2007.07","r":9.99,"a":-1.214},{"p":"R","s":"2007.07","r":10.089,"a":-1.222},{"p":"R","s":"2007.07","r":10.188,"a":-1.229},{"p":"R","s":"2007.07","r":10.287,"a":-1.236},{"p":"R","s":"2007.07","r":10.386,"a":-1.243},{"p":"R","s":"2007.07","r":10.485,"a":-1.25},{"p":"R","s":"2007.07","r":10.584,"a":-1.256},{"p":"R","s":"2007.07","r":10.683,"a":-1.262},{"p":"R","s":"2007.07","r":10.782,"a":-1.268},{"p":"R","s":"2007.07","r":10.881,"a":-1.274},
{"p":"R","s":"2007.07","r":10.98,"a":-1.28},{"p":"R","s":"2007.07","r":11.079,"a":-1.286},{"p":"R","s":"2007.07","r":11.178,"a":-1.292},{"p":"R","s":"2007.07","r":11.277,"a":-1.298},{"p":"R","s":"2007.07","r":11.376,"a":-1.304},{"p":"R","s":"2007.07","r":11.475,"a":-1.31},{"p":"R","s":"2007.07","r":11.574,"a":-1.318},{"p":"R","s":"2007.07","r":11.673,"a":-1.326},{"p":"R","s":"2007.07","r":11.772,"a":-1.332},{"p":"R","s":"2007.07","r":11.871,"a":-1.336},
{"p":"R","s":"2007.07","r":11.97,"a":-1.337},{"p":"R","s":"2007.07","r":12.069,"a":-1.335},{"p":"R","s":"2007.07","r":12.168,"a":-1.33},{"p":"R","s":"2007.07","r":12.267,"a":-1.325},{"p":"R","s":"2007.07","r":12.366,"a":-1.32},{"p":"R","s":"2007.07","r":12.465,"a":-1.315},{"p":"R","s":"2007.07","r":12.564,"a":-1.309},{"p":"R","s":"2007.07","r":12.663,"a":-1.303},{"p":"R","s":"2007.07","r":12.762,"a":-1.297},{"p":"R","s":"2007.07","r":12.861,"a":-1.29},
{"p":"R","s":"2007.07","r":12.96,"a":-1.282},{"p":"R","s":"2007.07","r":13.059,"a":-1.273},{"p":"R","s":"2007.07","r":13.158,"a":-1.258},{"p":"R","s":"2007.07","r":13.257,"a":-1.23},{"p":"R","s":"2007.07","r":13.356,"a":-1.19},{"p":"R","s":"2007.07","r":13.455,"a":-1.15},{"p":"R","s":"2007.07","r":13.554,"a":-1.097},{"p":"R","s":"2007.07","r":13.653,"a":-1.03},{"p":"R","s":"2007.07","r":13.752,"a":-0.98},{"p":"R","s":"2007.07","r":13.851,"a":-0.93},

{"p":"R","s":"2007.32","r":9,"a":-0.963},{"p":"R","s":"2007.32","r":9.099,"a":-0.975},{"p":"R","s":"2007.32","r":9.198,"a":-0.987},{"p":"R","s":"2007.32","r":9.297,"a":-0.998},{"p":"R","s":"2007.32","r":9.396,"a":-1.008},{"p":"R","s":"2007.32","r":9.495,"a":-1.017},{"p":"R","s":"2007.32","r":9.594,"a":-1.025},{"p":"R","s":"2007.32","r":9.693,"a":-1.032},{"p":"R","s":"2007.32","r":9.792,"a":-1.039},{"p":"R","s":"2007.32","r":9.891,"a":-1.046},
{"p":"R","s":"2007.32","r":9.99,"a":-1.053},{"p":"R","s":"2007.32","r":10.089,"a":-1.059},{"p":"R","s":"2007.32","r":10.188,"a":-1.065},{"p":"R","s":"2007.32","r":10.287,"a":-1.071},{"p":"R","s":"2007.32","r":10.386,"a":-1.077},{"p":"R","s":"2007.32","r":10.485,"a":-1.083},{"p":"R","s":"2007.32","r":10.584,"a":-1.089},{"p":"R","s":"2007.32","r":10.683,"a":-1.095},{"p":"R","s":"2007.32","r":10.782,"a":-1.1},{"p":"R","s":"2007.32","r":10.881,"a":-1.105},
{"p":"R","s":"2007.32","r":10.98,"a":-1.11},{"p":"R","s":"2007.32","r":11.079,"a":-1.115},{"p":"R","s":"2007.32","r":11.178,"a":-1.119},{"p":"R","s":"2007.32","r":11.277,"a":-1.123},{"p":"R","s":"2007.32","r":11.376,"a":-1.126},{"p":"R","s":"2007.32","r":11.475,"a":-1.129},{"p":"R","s":"2007.32","r":11.574,"a":-1.131},{"p":"R","s":"2007.32","r":11.673,"a":-1.131},{"p":"R","s":"2007.32","r":11.772,"a":-1.13},{"p":"R","s":"2007.32","r":11.871,"a":-1.127},
{"p":"R","s":"2007.32","r":11.97,"a":-1.123},{"p":"R","s":"2007.32","r":12.069,"a":-1.118},{"p":"R","s":"2007.32","r":12.168,"a":-1.112},{"p":"R","s":"2007.32","r":12.267,"a":-1.106},{"p":"R","s":"2007.32","r":12.366,"a":-1.1},{"p":"R","s":"2007.32","r":12.465,"a":-1.094},{"p":"R","s":"2007.32","r":12.564,"a":-1.088},{"p":"R","s":"2007.32","r":12.663,"a":-1.083},{"p":"R","s":"2007.32","r":12.762,"a":-1.079},{"p":"R","s":"2007.32","r":12.861,"a":-1.077},
{"p":"R","s":"2007.32","r":12.96,"a":-1.077},{"p":"R","s":"2007.32","r":13.059,"a":-1.08},{"p":"R","s":"2007.32","r":13.158,"a":-1.083},{"p":"R","s":"2007.32","r":13.257,"a":-1.087},{"p":"R","s":"2007.32","r":13.356,"a":-1.091},{"p":"R","s":"2007.32","r":13.455,"a":-1.095},{"p":"R","s":"2007.32","r":13.554,"a":-1.099},{"p":"R","s":"2007.32","r":13.653,"a":-1.102},{"p":"R","s":"2007.32","r":13.752,"a":-1.105},{"p":"R","s":"2007.32","r":13.851,"a":-1.107}
]},
"spacing":0,
"bounds":"flush",
"hconcat":[
{"width":303,"height":421,
"resolve":{"axis":{"x":"independent","y":"independent"}},
"layer":[
{"data":{"name":"errs"},"transform":[{"filter":"datum.p == 'L'"}],"mark":{"type":"rule","strokeWidth":1,"opacity":0.55,"clip":true},
"encoding":{"x":{"field":"r","type":"quantitative","scale":{"domain":[9,14.45],"nice":false,"zero":false},"axis":null},"y":{"field":"lo","type":"quantitative","scale":{"domain":[-2.0,-0.6],"nice":false,"zero":false},"axis":null},"y2":{"field":"hi"},"color":{"field":"s","type":"nominal","scale":{"domain":["2005.39","2005.67","2006.29","2006.44","2006.76","2006.93","2007.07","2007.32"],"range":["#000000","#cc1414","#1414c8","#2a7d2a","#a424a8","#33b3b3","#e0a232","#8c3a3a"]},
"legend":{"title":null,"orient":"none","legendX":311,"legendY":272,"symbolType":"M-2.5,0H2.5M-0.6,0A0.6,0.6,0,1,0,0.6,0A0.6,0.6,0,1,0,-0.6,0Z","symbolSize":100,"symbolOffset":7.5,"symbolStrokeWidth":1,"symbolOpacity":1,"labelFont":"DejaVu Sans","labelFontSize":12,"labelColor":"black","labelOffset":15,"rowPadding":4.6,"padding":5,"strokeColor":"#999999","fillColor":"white","cornerRadius":0,"encode":{"symbols":{"update":{"fill":{"scale":"color","field":"value"},"stroke":{"scale":"color","field":"value"},"fillOpacity":{"value":1},"strokeOpacity":{"value":1},"opacity":{"value":1}}}}}}}},
{"data":{"name":"errs"},"transform":[{"filter":"datum.p == 'L'"}],"mark":{"type":"tick","orient":"horizontal","size":5,"thickness":1,"opacity":0.55,"clip":true},
"encoding":{"x":{"field":"r","type":"quantitative","scale":{"domain":[9,14.45],"nice":false,"zero":false},"axis":null},"y":{"field":"lo","type":"quantitative","scale":{"domain":[-2.0,-0.6],"nice":false,"zero":false},"axis":null},"color":{"field":"s","type":"nominal"}}},
{"data":{"name":"errs"},"transform":[{"filter":"datum.p == 'L'"}],"mark":{"type":"tick","orient":"horizontal","size":5,"thickness":1,"opacity":0.55,"clip":true},
"encoding":{"x":{"field":"r","type":"quantitative","scale":{"domain":[9,14.45],"nice":false,"zero":false},"axis":null},"y":{"field":"hi","type":"quantitative","scale":{"domain":[-2.0,-0.6],"nice":false,"zero":false},"axis":null},"color":{"field":"s","type":"nominal"}}},
{"data":{"name":"main"},"transform":[{"filter":"datum.p == 'L'"}],"mark":{"type":"line","strokeWidth":1,"clip":true},
"encoding":{"x":{"field":"r","type":"quantitative","scale":{"domain":[9,14.45],"nice":false,"zero":false},
"axis":{"orient":"bottom","values":[9,9.1,9.2,9.3,9.4,9.5,9.6,9.7,9.8,9.9,10,10.1,10.2,10.3,10.4,10.5,10.6,10.7,10.8,10.9,11,11.1,11.2,11.3,11.4,11.5,11.6,11.7,11.8,11.9,12,12.1,12.2,12.3,12.4,12.5,12.6,12.7,12.8,12.9,13,13.1,13.2,13.3,13.4,13.5,13.6,13.7,13.8,13.9,14,14.1,14.2,14.3,14.4],"labelExpr":"abs(datum.value - round(datum.value)) < 0.001 ? format(datum.value, 'd') : ''","tickSize":{"condition":{"test":"abs(datum.value - round(datum.value)) < 0.001","value":-5},"value":-2.5},"labelPadding":6,"title":"r [mas]","titlePadding":0}},
"y":{"field":"a","type":"quantitative","scale":{"domain":[-2.0,-0.6],"nice":false,"zero":false},
"axis":{"orient":"left","values":[-2,-1.98,-1.96,-1.94,-1.92,-1.9,-1.88,-1.86,-1.84,-1.82,-1.8,-1.78,-1.76,-1.74,-1.72,-1.7,-1.68,-1.66,-1.64,-1.62,-1.6,-1.58,-1.56,-1.54,-1.52,-1.5,-1.48,-1.46,-1.44,-1.42,-1.4,-1.38,-1.36,-1.34,-1.32,-1.3,-1.28,-1.26,-1.24,-1.22,-1.2,-1.18,-1.16,-1.14,-1.12,-1.1,-1.08,-1.06,-1.04,-1.02,-1,-0.98,-0.96,-0.94,-0.92,-0.9,-0.88,-0.86,-0.84,-0.82,-0.8,-0.78,-0.76,-0.74,-0.72,-0.7,-0.68,-0.66,-0.64,-0.62],"labelExpr":"abs(datum.value*10 - round(datum.value*10)) < 0.001 ? format(datum.value, '.1f') : ''","tickSize":{"condition":{"test":"abs(datum.value*10 - round(datum.value*10)) < 0.001","value":-5},"value":-2.5},"labelPadding":8,"title":"α [1]","titlePadding":8}},
"color":{"field":"s","type":"nominal"},"detail":{"field":"s"}}},
{"data":{"name":"main"},"transform":[{"filter":"datum.p == 'L'"}],"mark":{"type":"point","filled":true,"size":32,"opacity":1,"stroke":"black","strokeOpacity":0.3,"strokeWidth":0.6,"clip":true},
"encoding":{"x":{"field":"r","type":"quantitative","scale":{"domain":[9,14.45],"nice":false,"zero":false},
"axis":{"orient":"top","values":[9,9.1,9.2,9.3,9.4,9.5,9.6,9.7,9.8,9.9,10,10.1,10.2,10.3,10.4,10.5,10.6,10.7,10.8,10.9,11,11.1,11.2,11.3,11.4,11.5,11.6,11.7,11.8,11.9,12,12.1,12.2,12.3,12.4,12.5,12.6,12.7,12.8,12.9,13,13.1,13.2,13.3,13.4,13.5,13.6,13.7,13.8,13.9,14,14.1,14.2,14.3,14.4],"labels":false,"tickSize":{"condition":{"test":"abs(datum.value - round(datum.value)) < 0.001","value":-5},"value":-2.5},"title":null}},
"y":{"field":"a","type":"quantitative","scale":{"domain":[-2.0,-0.6],"nice":false,"zero":false},
"axis":{"orient":"right","values":[-2,-1.98,-1.96,-1.94,-1.92,-1.9,-1.88,-1.86,-1.84,-1.82,-1.8,-1.78,-1.76,-1.74,-1.72,-1.7,-1.68,-1.66,-1.64,-1.62,-1.6,-1.58,-1.56,-1.54,-1.52,-1.5,-1.48,-1.46,-1.44,-1.42,-1.4,-1.38,-1.36,-1.34,-1.32,-1.3,-1.28,-1.26,-1.24,-1.22,-1.2,-1.18,-1.16,-1.14,-1.12,-1.1,-1.08,-1.06,-1.04,-1.02,-1,-0.98,-0.96,-0.94,-0.92,-0.9,-0.88,-0.86,-0.84,-0.82,-0.8,-0.78,-0.76,-0.74,-0.72,-0.7,-0.68,-0.66,-0.64,-0.62],"labels":false,"tickSize":{"condition":{"test":"abs(datum.value*10 - round(datum.value*10)) < 0.001","value":-5},"value":-2.5},"title":null}},
"color":{"field":"s","type":"nominal"}}}
]},
{"width":298,"height":421,
"resolve":{"axis":{"x":"independent","y":"independent"}},
"layer":[
{"data":{"name":"errs"},"transform":[{"filter":"datum.p == 'R'"}],"mark":{"type":"rule","strokeWidth":1,"opacity":0.55,"clip":true},
"encoding":{"x":{"field":"r","type":"quantitative","scale":{"domain":[9,14.35],"nice":false,"zero":false},"axis":null},"y":{"field":"lo","type":"quantitative","scale":{"domain":[-2.0,-0.6],"nice":false,"zero":false},"axis":null},"y2":{"field":"hi"},"color":{"field":"s","type":"nominal"}}},
{"data":{"name":"errs"},"transform":[{"filter":"datum.p == 'R'"}],"mark":{"type":"tick","orient":"horizontal","size":5,"thickness":1,"opacity":0.55,"clip":true},
"encoding":{"x":{"field":"r","type":"quantitative","scale":{"domain":[9,14.35],"nice":false,"zero":false},"axis":null},"y":{"field":"lo","type":"quantitative","scale":{"domain":[-2.0,-0.6],"nice":false,"zero":false},"axis":null},"color":{"field":"s","type":"nominal"}}},
{"data":{"name":"errs"},"transform":[{"filter":"datum.p == 'R'"}],"mark":{"type":"tick","orient":"horizontal","size":5,"thickness":1,"opacity":0.55,"clip":true},
"encoding":{"x":{"field":"r","type":"quantitative","scale":{"domain":[9,14.35],"nice":false,"zero":false},"axis":null},"y":{"field":"hi","type":"quantitative","scale":{"domain":[-2.0,-0.6],"nice":false,"zero":false},"axis":null},"color":{"field":"s","type":"nominal"}}},
{"data":{"name":"main"},"transform":[{"filter":"datum.p == 'R'"}],"mark":{"type":"line","strokeWidth":1,"clip":true},
"encoding":{"x":{"field":"r","type":"quantitative","scale":{"domain":[9,14.35],"nice":false,"zero":false},
"axis":{"orient":"bottom","values":[9,9.1,9.2,9.3,9.4,9.5,9.6,9.7,9.8,9.9,10,10.1,10.2,10.3,10.4,10.5,10.6,10.7,10.8,10.9,11,11.1,11.2,11.3,11.4,11.5,11.6,11.7,11.8,11.9,12,12.1,12.2,12.3,12.4,12.5,12.6,12.7,12.8,12.9,13,13.1,13.2,13.3,13.4,13.5,13.6,13.7,13.8,13.9,14,14.1,14.2,14.3],"labelExpr":"abs(datum.value - round(datum.value)) < 0.001 ? format(datum.value, 'd') : ''","tickSize":{"condition":{"test":"abs(datum.value - round(datum.value)) < 0.001","value":-5},"value":-2.5},"labelPadding":6,"title":"r [mas]","titlePadding":0}},
"y":{"field":"a","type":"quantitative","scale":{"domain":[-2.0,-0.6],"nice":false,"zero":false},
"axis":{"orient":"left","values":[-2,-1.98,-1.96,-1.94,-1.92,-1.9,-1.88,-1.86,-1.84,-1.82,-1.8,-1.78,-1.76,-1.74,-1.72,-1.7,-1.68,-1.66,-1.64,-1.62,-1.6,-1.58,-1.56,-1.54,-1.52,-1.5,-1.48,-1.46,-1.44,-1.42,-1.4,-1.38,-1.36,-1.34,-1.32,-1.3,-1.28,-1.26,-1.24,-1.22,-1.2,-1.18,-1.16,-1.14,-1.12,-1.1,-1.08,-1.06,-1.04,-1.02,-1,-0.98,-0.96,-0.94,-0.92,-0.9,-0.88,-0.86,-0.84,-0.82,-0.8,-0.78,-0.76,-0.74,-0.72,-0.7,-0.68,-0.66,-0.64,-0.62],"labels":false,"tickSize":{"condition":{"test":"abs(datum.value*10 - round(datum.value*10)) < 0.001","value":-5},"value":-2.5},"title":null}},
"color":{"field":"s","type":"nominal"}}},
{"data":{"name":"main"},"transform":[{"filter":"datum.p == 'R'"}],"mark":{"type":"point","filled":true,"size":32,"opacity":1,"stroke":"black","strokeOpacity":0.3,"strokeWidth":0.6,"clip":true},
"encoding":{"x":{"field":"r","type":"quantitative","scale":{"domain":[9,14.35],"nice":false,"zero":false},
"axis":{"orient":"top","values":[9,9.1,9.2,9.3,9.4,9.5,9.6,9.7,9.8,9.9,10,10.1,10.2,10.3,10.4,10.5,10.6,10.7,10.8,10.9,11,11.1,11.2,11.3,11.4,11.5,11.6,11.7,11.8,11.9,12,12.1,12.2,12.3,12.4,12.5,12.6,12.7,12.8,12.9,13,13.1,13.2,13.3,13.4,13.5,13.6,13.7,13.8,13.9,14,14.1,14.2,14.3],"labels":false,"tickSize":{"condition":{"test":"abs(datum.value - round(datum.value)) < 0.001","value":-5},"value":-2.5},"title":null}},
"y":{"field":"a","type":"quantitative","scale":{"domain":[-2.0,-0.6],"nice":false,"zero":false},
"axis":{"orient":"right","values":[-2,-1.98,-1.96,-1.94,-1.92,-1.9,-1.88,-1.86,-1.84,-1.82,-1.8,-1.78,-1.76,-1.74,-1.72,-1.7,-1.68,-1.66,-1.64,-1.62,-1.6,-1.58,-1.56,-1.54,-1.52,-1.5,-1.48,-1.46,-1.44,-1.42,-1.4,-1.38,-1.36,-1.34,-1.32,-1.3,-1.28,-1.26,-1.24,-1.22,-1.2,-1.18,-1.16,-1.14,-1.12,-1.1,-1.08,-1.06,-1.04,-1.02,-1,-0.98,-0.96,-0.94,-0.92,-0.9,-0.88,-0.86,-0.84,-0.82,-0.8,-0.78,-0.76,-0.74,-0.72,-0.7,-0.68,-0.66,-0.64,-0.62],"labels":false,"tickSize":{"condition":{"test":"abs(datum.value*10 - round(datum.value*10)) < 0.001","value":-5},"value":-2.5},"title":null}},
"color":{"field":"s","type":"nominal"}}}
]}
]
}
